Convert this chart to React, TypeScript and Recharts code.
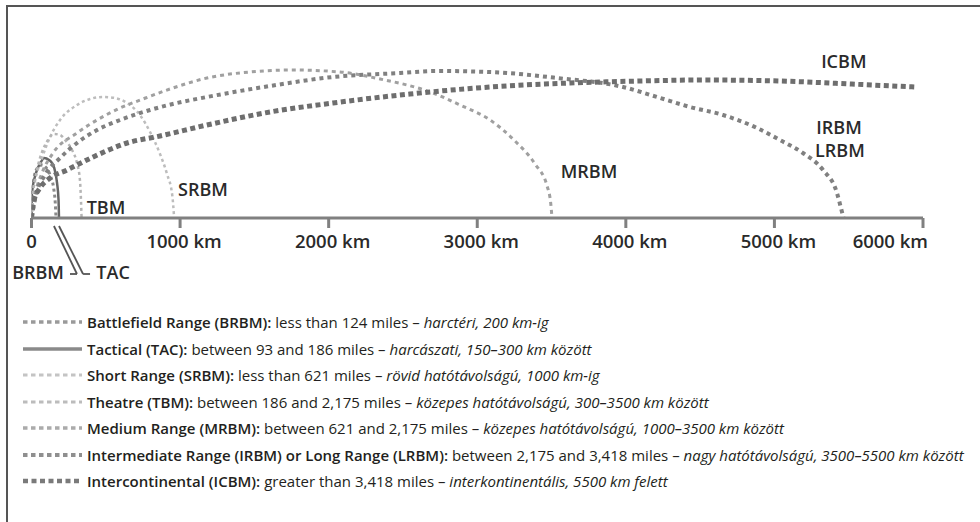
import React from 'react';
import { LineChart, Line, XAxis, YAxis, ReferenceDot, ReferenceLine, Label } from 'recharts';

// ---- axis ----
const axisTicks = [0, 1000, 2000, 3000, 4000, 5000, 6000];
const tickLabels = ['0', '1000 km', '2000 km', '3000 km', '4000 km', '5000 km', '6000 km'];

// ---- trajectories: distance (km) vs. schematic height ----
const brbm = [
  { km: 0, h: 0 }, { km: 4, h: 20 }, { km: 15, h: 38 }, { km: 35, h: 49 }, { km: 70, h: 53 },
  { km: 100, h: 50 }, { km: 130, h: 41 }, { km: 150, h: 29 }, { km: 160, h: 15 }, { km: 165, h: 0 },
];
const tac = [
  { km: 0, h: 0 }, { km: 3, h: 25 }, { km: 30, h: 45 }, { km: 64, h: 56 }, { km: 84, h: 60 },
  { km: 118, h: 58 }, { km: 138, h: 55 }, { km: 151, h: 51 }, { km: 172, h: 35 }, { km: 182, h: 18 }, { km: 185, h: 0 },
];
const tbm = [
  { km: 0, h: 0 }, { km: 10, h: 23 }, { km: 37, h: 48 }, { km: 71, h: 66 }, { km: 111, h: 78 },
  { km: 151, h: 84 }, { km: 192, h: 83 }, { km: 232, h: 77 }, { km: 273, h: 68 }, { km: 306, h: 55 },
  { km: 326, h: 38 }, { km: 333, h: 18 }, { km: 337, h: 0 },
];
const srbm = [
  { km: 0, h: 0 }, { km: 10, h: 25 }, { km: 24, h: 37 }, { km: 71, h: 60 }, { km: 125, h: 81 },
  { km: 192, h: 98 }, { km: 306, h: 113 }, { km: 394, h: 119 }, { km: 481, h: 121 }, { km: 562, h: 120 },
  { km: 643, h: 115 }, { km: 730, h: 103 }, { km: 798, h: 86 }, { km: 865, h: 64 }, { km: 912, h: 44 },
  { km: 948, h: 22 }, { km: 960, h: 0 },
];
const mrbm = [
  { km: 0, h: 0 }, { km: 24, h: 23 }, { km: 71, h: 45 }, { km: 145, h: 65 }, { km: 306, h: 85 },
  { km: 441, h: 98 }, { km: 596, h: 110 }, { km: 750, h: 119 }, { km: 932, h: 129 }, { km: 1181, h: 140 },
  { km: 1468, h: 146 }, { km: 1753, h: 148 }, { km: 2076, h: 146 }, { km: 2346, h: 139 }, { km: 2702, h: 125 },
  { km: 2884, h: 113 }, { km: 3086, h: 98 }, { km: 3254, h: 77 }, { km: 3389, h: 54 }, { km: 3470, h: 32 },
  { km: 3495, h: 14 }, { km: 3503, h: 0 },
];
const irbm = [
  { km: 0, h: 0 }, { km: 30, h: 23 }, { km: 91, h: 43 }, { km: 192, h: 60 }, { km: 306, h: 75 },
  { km: 441, h: 88 }, { km: 596, h: 98 }, { km: 798, h: 108 }, { km: 979, h: 115 }, { km: 1181, h: 121 },
  { km: 1605, h: 132 }, { km: 2029, h: 141 }, { km: 2480, h: 145 }, { km: 2729, h: 147 }, { km: 3086, h: 146 },
  { km: 3537, h: 140 }, { km: 3981, h: 131 }, { km: 4210, h: 121 }, { km: 4432, h: 111 }, { km: 4654, h: 103 },
  { km: 4883, h: 90 }, { km: 5037, h: 78 }, { km: 5192, h: 65 }, { km: 5327, h: 48 }, { km: 5421, h: 25 },
  { km: 5448, h: 10 }, { km: 5465, h: 0 },
];
const icbm = [
  { km: 0, h: 0 }, { km: 17, h: 18 }, { km: 57, h: 30 }, { km: 125, h: 40 }, { km: 239, h: 48 },
  { km: 414, h: 61 }, { km: 643, h: 75 }, { km: 865, h: 82 }, { km: 1181, h: 93 }, { km: 1605, h: 106 },
  { km: 2029, h: 115 }, { km: 2547, h: 124 }, { km: 3086, h: 131 }, { km: 3624, h: 135 }, { km: 4095, h: 137 },
  { km: 4519, h: 138 }, { km: 5037, h: 137 }, { km: 5508, h: 134 }, { km: 5946, h: 131 },
];

// ---- curve labels (km, height) ----
const curveLabels = [
  { text: 'ICBM', km: 5467, h: 156 },
  { text: 'IRBM', km: 5435, h: 90 },
  { text: 'LRBM', km: 5441, h: 67 },
  { text: 'MRBM', km: 3752, h: 46 },
  { text: 'SRBM', km: 1154, h: 28 },
  { text: 'TBM', km: 501, h: 10 },
  { text: 'BRBM', km: 44, h: -55 },
  { text: 'TAC', km: 549, h: -55 },
];

// ---- legend ----
const legendBold = [
  'Battlefield Range (BRBM):',
  'Tactical (TAC):',
  'Short Range (SRBM):',
  'Theatre (TBM):',
  'Medium Range (MRBM):',
  'Intermediate Range (IRBM) or Long Range (LRBM):',
  'Intercontinental (ICBM):',
];
const legendPlain = [
  ' less than 124 miles – ',
  ' between 93 and 186 miles – ',
  ' less than 621 miles – ',
  ' between 186 and 2,175 miles – ',
  ' between 621 and 2,175 miles – ',
  ' between 2,175 and 3,418 miles – ',
  ' greater than 3,418 miles – ',
];
const legendItalic = [
  'harctéri, 200 km-ig',
  'harcászati, 150–300 km között',
  'rövid hatótávolságú, 1000 km-ig',
  'közepes hatótávolságú, 300–3500 km között',
  'közepes hatótávolságú, 1000–3500 km között',
  'nagy hatótávolságú, 3500–5500 km között',
  'interkontinentális, 5500 km felett',
];

const FONT = '"Open Sans", "Noto Sans", sans-serif';

type Style = { color: string; width: number; dash?: string };
const styles: Style[] = [
  { color: '#8a8a8a', width: 3, dash: '3 3' },      // BRBM
  { color: '#666666', width: 2.5 },                 // TAC
  { color: '#bdbdbd', width: 2.5, dash: '3 3' },    // SRBM
  { color: '#b5b5b5', width: 2.5, dash: '3 3' },    // TBM
  { color: '#a0a0a0', width: 3, dash: '4 4' },      // MRBM
  { color: '#808080', width: 4, dash: '4 4' },      // IRBM
  { color: '#6e6e6e', width: 5, dash: '5 3.5' },    // ICBM
];
const legendSwatch: Style[] = [
  { color: '#9a9a9a', width: 3.5, dash: '4.5 3.5' },
  { color: '#8a8a8a', width: 3.5 },
  { color: '#c4c4c4', width: 3, dash: '4.5 3.5' },
  { color: '#bcbcbc', width: 3, dash: '4.5 3.5' },
  { color: '#ababab', width: 3.5, dash: '4.5 3.5' },
  { color: '#8f8f8f', width: 4, dash: '4.5 3.5' },
  { color: '#7a7a7a', width: 4.5, dash: '5 3.5' },
];
const seriesData = [brbm, tac, srbm, tbm, mrbm, irbm, icbm];
const seriesNames = ['BRBM', 'TAC', 'SRBM', 'TBM', 'MRBM', 'IRBM', 'ICBM'];

const legendStart = 322;
const legendStep = 26.5;

const AxisTick = (props: any) => {
  const idx = axisTicks.indexOf(props.payload.value);
  const last = idx === axisTicks.length - 1;
  const first = idx === 0;
  return (
    <text
      x={props.x + (first ? 0 : last ? 5 : 4)}
      y={props.y + 18}
      textAnchor={last ? 'end' : 'middle'}
      fontFamily={FONT}
      fontSize={18.5}
      fontWeight={600}
      fill="#2a2a2a"
    >
      {tickLabels[idx]}
    </text>
  );
};

export default function App() {
  return (
    <div style={{ position: 'absolute', left: 0, top: 0, width: 980, height: 522, background: '#fff', overflow: 'hidden' }}>
      {/* frame */}
      <div style={{ position: 'absolute', left: 6, top: 5, width: 980, height: 530, borderLeft: '2px solid #555', borderTop: '2px solid #555' }} />
      <div style={{ position: 'absolute', left: 0, top: 0 }}>
        <LineChart width={980} height={522} margin={{ top: 18, right: 57, bottom: 274, left: 31.5 }}>
          <XAxis
            type="number"
            dataKey="km"
            domain={[0, 6000]}
            ticks={axisTicks}
            allowDataOverflow
            height={30}
            tickSize={10}
            tickMargin={2}
            axisLine={{ stroke: '#808080', strokeWidth: 3 }}
            tickLine={{ stroke: '#808080', strokeWidth: 3 }}
            tick={<AxisTick />}
            interval={0}
          />
          <YAxis type="number" domain={[0, 200]} allowDataOverflow hide />
          {seriesData.map((d, i) => (
            <Line
              key={seriesNames[i]}
              data={d}
              dataKey="h"
              type="monotone"
              stroke={styles[i].color}
              strokeWidth={styles[i].width}
              strokeDasharray={styles[i].dash}
              dot={false}
              activeDot={false}
              isAnimationActive={false}
            />
          ))}
          <ReferenceLine segment={[{ x: 151, y: -8 }, { x: 306, y: -56 }]} stroke="#555" strokeWidth={1.8} ifOverflow="visible" />
          <ReferenceLine segment={[{ x: 259, y: -56 }, { x: 306, y: -56 }]} stroke="#555" strokeWidth={1.8} ifOverflow="visible" />
          <ReferenceLine segment={[{ x: 185, y: -8 }, { x: 347, y: -56 }]} stroke="#555" strokeWidth={1.8} ifOverflow="visible" />
          <ReferenceLine segment={[{ x: 347, y: -56 }, { x: 394, y: -56 }]} stroke="#555" strokeWidth={1.8} ifOverflow="visible" />
          {curveLabels.map((l) => (
            <ReferenceDot key={l.text} x={l.km} y={l.h} r={0} ifOverflow="visible" fill="none" stroke="none">
              <Label value={l.text} position="center" fill="#2a2a2a" fontSize={18} fontWeight={600} fontFamily={FONT} />
            </ReferenceDot>
          ))}
        </LineChart>
      </div>
      {/* legend */}
      {legendBold.map((b, i) => {
        const cy = legendStart + i * legendStep;
        const s = legendSwatch[i];
        return (
          <React.Fragment key={b}>
            <svg style={{ position: 'absolute', left: 23, top: cy - 5 }} width={60} height={10}>
              <line x1={0} y1={5} x2={59} y2={5} stroke={s.color} strokeWidth={s.width} strokeDasharray={s.dash} />
            </svg>
            <div style={{ position: 'absolute', left: 87, top: cy - 11, lineHeight: '22px', fontSize: 15, fontFamily: FONT, color: '#231f20', whiteSpace: 'nowrap' }}>
              <span style={{ fontWeight: 600 }}>{b}</span>
              <span>{legendPlain[i]}</span>
              <span style={{ fontStyle: 'italic' }}>{legendItalic[i]}</span>
            </div>
          </React.Fragment>
        );
      })}
    </div>
  );
}
